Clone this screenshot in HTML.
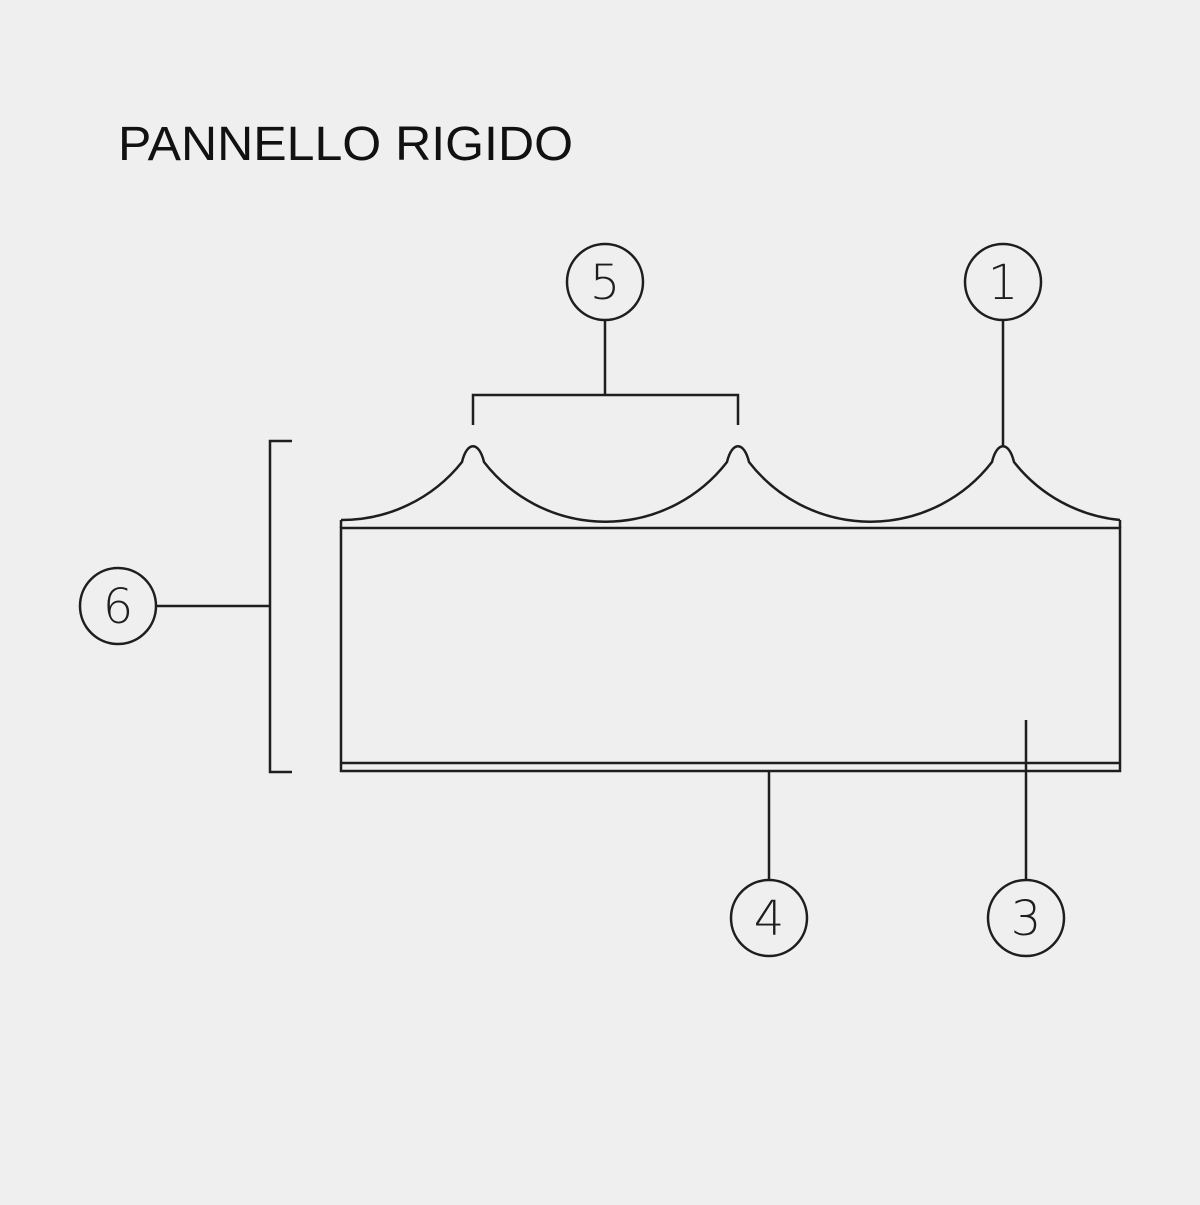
<!DOCTYPE html>
<html><head><style>html,body{margin:0;padding:0;background:#efefef}</style></head>
<body>
<svg width="1200" height="1200" viewBox="0 0 1200 1200" xmlns="http://www.w3.org/2000/svg">
<rect width="1200" height="1200" fill="#efefef"/>
<text x="118" y="160" font-family="Liberation Sans, sans-serif" font-size="48" fill="#111" textLength="455" lengthAdjust="spacingAndGlyphs">PANNELLO RIGIDO</text>
<g fill="none" stroke="#1e1e1e" stroke-width="2.5">
<path d="M341,520 A153.5,153.5 0 0 0 462,462 C467,441 479,441 484,462 A153.5,153.5 0 0 0 727,462 C732,441 744,441 749,462 A153.5,153.5 0 0 0 992,462 C997,441 1009,441 1014,462 A153.5,153.5 0 0 0 1120,520"/>
<rect x="341" y="528" width="779" height="243"/>
<line x1="341" y1="520" x2="341" y2="528"/>
<line x1="1120" y1="520" x2="1120" y2="528"/>
<line x1="341" y1="763" x2="1120" y2="763"/>
<path d="M473,425 V395 H738 V425"/>
<line x1="605" y1="320" x2="605" y2="395"/>
<line x1="1003" y1="320" x2="1003" y2="446"/>
<path d="M292,441 H270 V772 H292"/>
<line x1="157" y1="606" x2="270" y2="606"/>
<line x1="769" y1="771" x2="769" y2="880"/>
<line x1="1026" y1="720" x2="1026" y2="880"/>
<circle cx="605" cy="282" r="38"/>
<circle cx="1003" cy="282" r="38"/>
<circle cx="118" cy="606" r="38"/>
<circle cx="769" cy="918" r="38"/>
<circle cx="1026" cy="918" r="38"/>
</g>
<g font-family="DejaVu Sans, Liberation Sans, sans-serif" font-size="48" fill="#1e1e1e" text-anchor="middle" font-weight="200">
<text x="605" y="299">5</text>
<text x="1003" y="299">1</text>
<text x="118" y="623">6</text>
<text x="769" y="935">4</text>
<text x="1026" y="935">3</text>
</g>
</svg>
</body></html>
